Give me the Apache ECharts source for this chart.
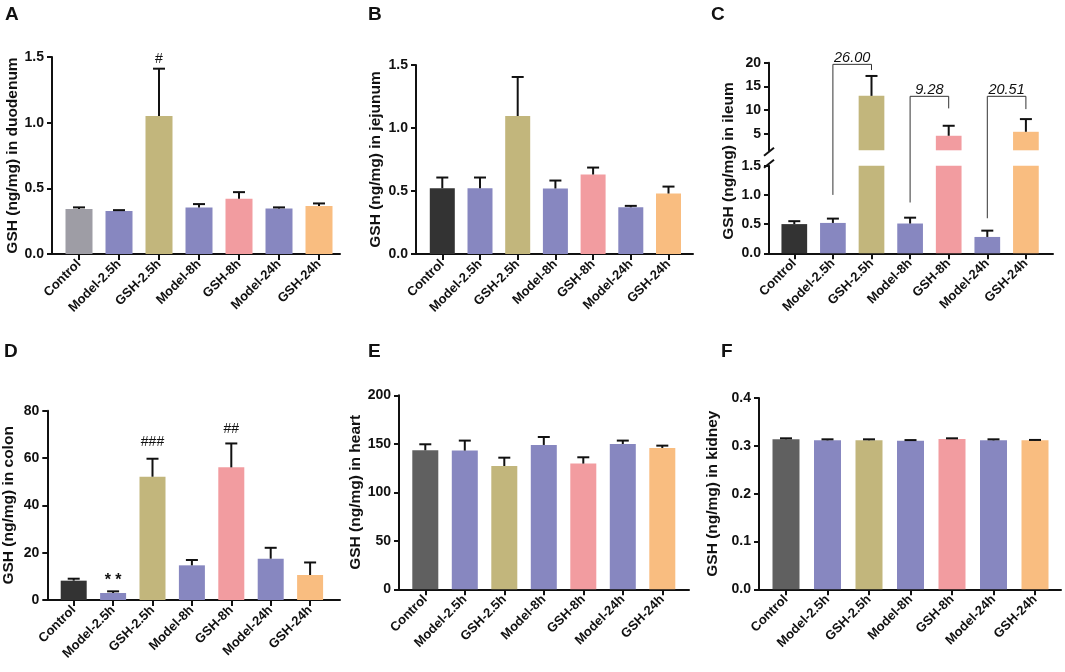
<!DOCTYPE html>
<html>
<head>
<meta charset="utf-8">
<script src="https://cdn.jsdelivr.net/npm/echarts@6/dist/echarts.min.js"></script>
<style>
  html, body { margin: 0; background: #fff; }
  #main { width: 1065px; height: 672px; }
</style>
</head>
<body>
<div id="main"></div>
<script>
(function () {

  var groups = ['Control', 'Model-2.5h', 'GSH-2.5h', 'Model-8h', 'GSH-8h', 'Model-24h', 'GSH-24h'];

  // mean and SD per group
  var duodenumMean = [0.342, 0.327, 1.051, 0.355, 0.421, 0.347, 0.365];
  var duodenumSd = [0.013, 0.007, 0.36, 0.025, 0.05, 0.008, 0.02];
  var jejunumMean = [0.522, 0.522, 1.095, 0.52, 0.631, 0.371, 0.48];
  var jejunumSd = [0.085, 0.085, 0.31, 0.063, 0.055, 0.011, 0.055];
  var ileumMean = [0.50, 0.52, 13.0, 0.51, 4.57, 0.28, 5.41];
  var ileumSd = [0.05, 0.074, 4.2, 0.10, 2.11, 0.108, 2.68];
  var colonMean = [8.17, 2.96, 52.1, 14.65, 56.06, 17.46, 10.56];
  var colonSd = [0.83, 0.7, 7.6, 2.25, 10.1, 4.6, 5.3];
  var heartMean = [143.3, 143.0, 127.1, 148.8, 129.6, 149.8, 145.7];
  var heartSd = [6.2, 10.3, 8.6, 8.2, 6.5, 3.5, 2.4];
  var kidneyMean = [0.3136, 0.3115, 0.3115, 0.3108, 0.3143, 0.3115, 0.3115];
  var kidneySd = [0.0021, 0.0021, 0.0021, 0.0012, 0.0014, 0.0021, 0.0008];

  // y ticks
  var duodenumTicks = [0, 0.5, 1.0, 1.5];
  var jejunumTicks = [0, 0.5, 1.0, 1.5];
  var ileumLowTicks = [0, 0.5, 1.0, 1.5];
  var ileumHighTicks = [5, 10, 15, 20];
  var colonTicks = [0, 20, 40, 60, 80];
  var heartTicks = [0, 50, 100, 150, 200];
  var kidneyTicks = [0, 0.1, 0.2, 0.3, 0.4];

  // significance marks (group index, y value in data units)
  var duodenumMarks = [{x: 2, y: 1.485, text: '#'}];
  var colonMarks = [
    {x: 1, y: 8.0, text: '* *'},
    {x: 2, y: 66.7, text: '###'},
    {x: 4, y: 72.2, text: '##'}
  ];
  // fold-change brackets in ileum: start on lower axis, top/end on upper axis
  var ileumBrackets = [
    {from: 1, to: 2, start: 1.0, top: 19.65, end: 18.45, text: '26.00'},
    {from: 3, to: 4, start: 0.87, top: 12.9, end: 10.35, text: '9.28'},
    {from: 5, to: 6, start: 0.6, top: 12.9, end: 10.2, text: '20.51'}
  ];

  var ink = '#111';
  var font = '"Liberation Sans", Arial, Helvetica, sans-serif';
  var groupColors = ['#333333', '#8787c0', '#c2b67c', '#8787c0', '#f29ca0', '#8787c0', '#f9bd80'];
  var idxs = groups.map(function (g, i) { return i; });

  var grids = [], xAxes = [], yAxes = [], series = [];

  function addPanel(p) {
    var i = grids.length;
    grids.push({
      left: p.left, top: p.top,
      width: p.right - p.left, height: p.bottom - p.top,
      containLabel: false, outerBoundsMode: 'none'
    });
    xAxes.push({
      gridIndex: i, type: 'value',
      min: -(p.c0 - p.left) / p.step,
      max: (p.right - p.c0) / p.step,
      show: p.showX !== false,
      axisLine: {onZero: false, lineStyle: {color: ink, width: 2}},
      axisTick: {customValues: idxs, length: 6, lineStyle: {color: ink, width: 2}},
      axisLabel: {
        customValues: idxs, rotate: 45, margin: 8,
        fontSize: 13, fontWeight: 'bold', color: ink, fontFamily: font,
        formatter: function (v) { return groups[Math.round(v)]; }
      },
      splitLine: {show: false}
    });
    yAxes.push({
      gridIndex: i, type: 'value',
      min: p.min, max: p.max,
      name: p.name || '', nameLocation: 'middle', nameGap: p.nameGap || 30,
      nameTextStyle: {fontSize: 15.5, fontWeight: 'bold', color: ink, fontFamily: font},
      axisLine: {show: true, onZero: false, lineStyle: {color: ink, width: 2}},
      axisTick: {show: true, customValues: p.ticks, length: 5, lineStyle: {color: ink, width: 2}},
      axisLabel: {
        customValues: p.ticks, margin: 8,
        fontSize: 14, fontWeight: 'bold', color: ink, fontFamily: font,
        formatter: function (v) { return v.toFixed(p.digits); }
      },
      splitLine: {show: false}
    });
    return i;
  }

  function addBars(i, mean, colors, bw, keep) {
    var data = [];
    mean.forEach(function (m, k) {
      if (keep && !keep(k)) return;
      data.push({value: [k, m], itemStyle: {color: colors[k]}});
    });
    series.push({type: 'bar', xAxisIndex: i, yAxisIndex: i, barWidth: bw, clip: true, data: data});
  }

  function renderErr(params, api) {
    var x = api.value(0), m = api.value(1), s = api.value(2);
    var p0 = api.coord([x, m]), p1 = api.coord([x, m + s]);
    var st = {stroke: ink, lineWidth: 2};
    return {
      type: 'group', children: [
        {type: 'line', shape: {x1: p0[0], y1: p0[1], x2: p1[0], y2: p1[1]}, style: st},
        {type: 'line', shape: {x1: p1[0] - 6, y1: p1[1], x2: p1[0] + 6, y2: p1[1]}, style: st}
      ]
    };
  }

  function addErr(i, mean, sd, keep) {
    var data = [];
    mean.forEach(function (m, k) {
      if (keep && !keep(k)) return;
      data.push([k, m, sd[k]]);
    });
    series.push({type: 'custom', xAxisIndex: i, yAxisIndex: i, renderItem: renderErr, data: data, z: 3});
  }

  function addMarks(i, marks) {
    series.push({
      type: 'custom', xAxisIndex: i, yAxisIndex: i, z: 4,
      data: marks.map(function (m) { return [m.x, m.y]; }),
      renderItem: function (params, api) {
        var p = api.coord([api.value(0), api.value(1)]);
        return {
          type: 'text', x: p[0], y: p[1],
          style: {
            text: marks[params.dataIndex].text, fill: ink,
            font: (marks[params.dataIndex].text.indexOf('*') >= 0 ? 'bold 16px ' : '14px ') + font,
            align: 'center', verticalAlign: 'middle'
          }
        };
      }
    });
  }

  function colorsWith(ctrl) {
    var c = groupColors.slice();
    c[0] = ctrl;
    return c;
  }

  // A duodenum
  var gA = addPanel({left: 52, top: 57, bottom: 254, right: 340, c0: 79, step: 40,
    min: 0, max: 1.5, ticks: duodenumTicks, digits: 1, name: 'GSH (ng/mg) in duodenum', nameGap: 31});
  addBars(gA, duodenumMean, colorsWith('#9e9da5'), 27);
  addErr(gA, duodenumMean, duodenumSd);
  addMarks(gA, duodenumMarks);

  // B jejunum
  var gB = addPanel({left: 416, top: 65, bottom: 254, right: 693, c0: 442.3, step: 37.7,
    min: 0, max: 1.5, ticks: jejunumTicks, digits: 1, name: 'GSH (ng/mg) in jejunum', nameGap: 32});
  addBars(gB, jejunumMean, colorsWith('#333333'), 25);
  addErr(gB, jejunumMean, jejunumSd);

  // C ileum, broken axis: upper part and lower part
  var isHigh = function (k) { return ileumMean[k] > 1.5; };
  var isLow = function (k) { return ileumMean[k] <= 1.5; };
  var gCu = addPanel({left: 769, top: 62.7, bottom: 150.3, right: 1053, c0: 794.3, step: 38.6, showX: false,
    min: 1.5, max: 20, ticks: ileumHighTicks, digits: 0});
  var gCl = addPanel({left: 769, top: 165.7, bottom: 253.3, right: 1053, c0: 794.3, step: 38.6,
    min: 0, max: 1.5, ticks: ileumLowTicks, digits: 1});
  addBars(gCu, ileumMean, colorsWith('#333333'), 25.7, isHigh);
  addErr(gCu, ileumMean, ileumSd, isHigh);
  addBars(gCl, ileumMean, colorsWith('#333333'), 25.7);
  addErr(gCl, ileumMean, ileumSd, isLow);

  // D colon
  var gD = addPanel({left: 47.3, top: 410.7, bottom: 600, right: 340, c0: 73.7, step: 39.4,
    min: 0, max: 80, ticks: colonTicks, digits: 0, name: 'GSH (ng/mg) in colon', nameGap: 31});
  addBars(gD, colonMean, colorsWith('#333333'), 26);
  addErr(gD, colonMean, colonSd);
  addMarks(gD, colonMarks);

  // E heart
  var gE = addPanel({left: 399, top: 395.3, bottom: 589.3, right: 689, c0: 425.3, step: 39.5,
    min: 0, max: 200, ticks: heartTicks, digits: 0, name: 'GSH (ng/mg) in heart', nameGap: 33});
  addBars(gE, heartMean, colorsWith('#606060'), 26);
  addErr(gE, heartMean, heartSd);

  // F kidney
  var gF = addPanel({left: 759, top: 398, bottom: 589.3, right: 1061, c0: 786, step: 41.5,
    min: 0, max: 0.4, ticks: kidneyTicks, digits: 1, name: 'GSH (ng/mg) in kidney', nameGap: 38});
  addBars(gF, kidneyMean, colorsWith('#606060'), 27);
  addErr(gF, kidneyMean, kidneySd);

  var letterStyle = function (t, x, y) {
    return {type: 'text', x: x, y: y, style: {text: t, font: 'bold 19px ' + font, fill: ink}};
  };

  var myChart = echarts.init(document.getElementById('main'), null, {renderer: 'canvas'});
  myChart.setOption({
    backgroundColor: '#fff',
    animation: false,
    grid: grids,
    xAxis: xAxes,
    yAxis: yAxes,
    series: series
  });

  // ileum title centred on the whole broken axis, brackets and break marks
  var g = [
    letterStyle('A', 5, 5), letterStyle('B', 368, 5), letterStyle('C', 711, 5),
    letterStyle('D', 4, 342), letterStyle('E', 368, 342), letterStyle('F', 721, 342)
  ];
  var axX = myChart.convertToPixel({gridIndex: gCl}, [xAxes[gCl].min, 0])[0];
  var topY = myChart.convertToPixel({gridIndex: gCu}, [0, 20])[1];
  var botY = myChart.convertToPixel({gridIndex: gCl}, [0, 0])[1];
  g.push({
    type: 'text', x: axX - 40, y: (topY + botY) / 2 + 3, rotation: Math.PI / 2,
    style: {text: 'GSH (ng/mg) in ileum', font: 'bold 15.5px ' + font, fill: ink, align: 'center', verticalAlign: 'middle'}
  });
  var upBot = myChart.convertToPixel({gridIndex: gCu}, [0, 1.5])[1];
  var lowTop = myChart.convertToPixel({gridIndex: gCl}, [0, 1.5])[1];
  [upBot + 1.5, lowTop - 2].forEach(function (y) {
    g.push({type: 'line', shape: {x1: axX - 5, y1: y + 4, x2: axX + 5, y2: y - 4}, style: {stroke: ink, lineWidth: 2}});
  });
  ileumBrackets.forEach(function (b) {
    var p0 = myChart.convertToPixel({gridIndex: gCl}, [b.from, b.start]);
    var p1 = myChart.convertToPixel({gridIndex: gCu}, [b.from, b.top]);
    var p2 = myChart.convertToPixel({gridIndex: gCu}, [b.to, b.top]);
    var p3 = myChart.convertToPixel({gridIndex: gCu}, [b.to, b.end]);
    g.push({type: 'polyline', shape: {points: [p0, p1, p2, p3]}, style: {stroke: '#333', lineWidth: 1, fill: null}});
    g.push({
      type: 'text', x: (p1[0] + p2[0]) / 2, y: p1[1] + 1,
      style: {text: b.text, font: 'italic 14.5px ' + font, fill: ink, align: 'center', verticalAlign: 'bottom'}
    });
  });
  myChart.setOption({graphic: g});

})()
</script>
</body>
</html>
